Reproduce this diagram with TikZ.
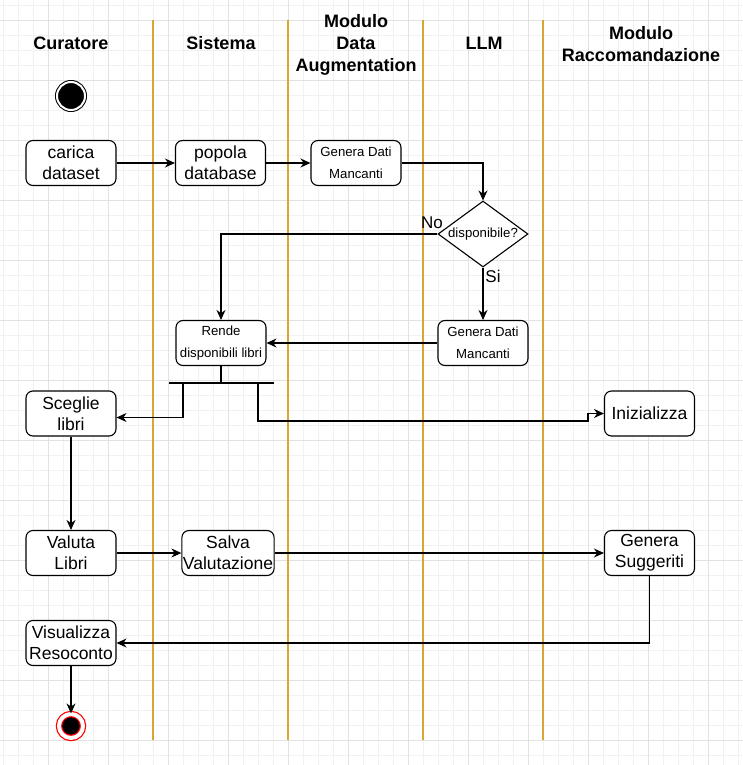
\documentclass[tikz,border=0pt]{standalone}
\usepackage{fontspec}
\setmainfont{Liberation Sans}
\usepackage{xcolor}
\usepackage{tikz}
\usetikzlibrary{shapes,shapes.geometric,arrows.meta,calc,positioning}
\definecolor{lanecol}{HTML}{D9A636}
\definecolor{gridmin}{HTML}{F1F1F1}
\definecolor{gridmaj}{HTML}{E2E2E2}
\tikzset{
  lane/.style={draw=lanecol, line width=1.6pt},
  lanehead/.style={align=center, inner sep=0pt, font=\fontsize{18}{22}\selectfont\bfseries},
  act/.style={rectangle, rounded corners=7pt, draw=black, line width=1.1pt, fill=white, minimum width=90pt, minimum height=45pt, align=center, inner sep=1pt, font=\fontsize{17.5}{21}\selectfont},
  act_s/.style={act, font=\fontsize{13.2}{22}\selectfont},
  dec_n/.style={diamond, aspect=1.5, draw=black, line width=1.1pt, fill=white, minimum width=90pt, minimum height=66pt, inner sep=0pt, font=\fontsize{13.2}{16}\selectfont},
  startnode/.style={circle, draw=black, fill=black, double=white, double distance=2pt, line width=1pt, minimum size=28pt, inner sep=0pt},
  endnode/.style={circle, draw=red, fill=black, double=white, double distance=4pt, line width=1.2pt, minimum size=24pt, inner sep=0pt},
  forkbar/.style={rectangle, fill=black, inner sep=0pt, minimum width=105pt, minimum height=1.6pt},
  flow/.style={draw=black, line width=1.1pt, -{Stealth[length=10pt,width=9pt]}},
  conn/.style={draw=black, line width=1.1pt},
  lbl/.style={inner sep=0pt, font=\fontsize{17}{18}\selectfont}
}
\begin{document}
\begin{tikzpicture}[x=1pt,y=-1pt]
\useasboundingbox (0,0) rectangle (743,765);
% background grid
\foreach \g in {0,...,49} \draw[gridmin, line width=0.6pt] (3+15*\g,0) -- (3+15*\g,765);
\foreach \g in {0,...,50} \draw[gridmin, line width=0.6pt] (0,5+15*\g) -- (743,5+15*\g);
\foreach \g in {0,...,11} \draw[gridmaj, line width=0.7pt] (48+60*\g,0) -- (48+60*\g,765);
\foreach \g in {0,...,12} \draw[gridmaj, line width=0.7pt] (0,20+60*\g) -- (743,20+60*\g);

% swimlanes
\foreach \x in {153,288,423,543} \draw[lane] (\x,20) -- (\x,740);
\node[lanehead] (h_cur) at (71,43) {Curatore};
\node[lanehead] (h_sis) at (221,43) {Sistema};
\node[lanehead] (h_mda) at (356,45) {Modulo\\Data\\Augmentation};
\node[lanehead] (h_llm) at (484,43) {LLM};
\node[lanehead] (h_rac) at (641,44) {Modulo\\Raccomandazione};

% activities
\node[startnode] (start) at (71,96) {};
\node[act] (carica) at (71,163) {carica\\dataset};
\node[act] (popola) at (220.5,163) {popola\\database};
\node[act_s] (gen_dm) at (356,163) {Genera Dati\\Mancanti};
\node[dec_n] (dispo) at (483,234) {disponibile?};
\node[act_s] (gen_llm) at (483,343) {Genera Dati\\Mancanti};
\node[act_s] (rende) at (221,343) {Rende\\disponibili libri};
\node[forkbar] (fork) at (221,383) {};
\coordinate (fork_l) at (183,383);
\coordinate (fork_r) at (258,383);
\coordinate (jog) at (588,421);
\node[act] (sceglie) at (71,413.5) {Sceglie\\libri};
\node[act] (iniz) at (649.5,413.5) {Inizializza};
\node[act] (valuta) at (71,553) {Valuta\\Libri};
\node[act] (salva) at (228,553) {Salva\\Valutazione};
\node[act] (gen_sug) at (649.5,553) {Genera\\Suggeriti};
\node[act] (visual) at (71,643) {Visualizza\\Resoconto};
\node[endnode] (fine) at (71,726) {};
\node[lbl] (l_no) at (432,223) {No};
\node[lbl] (l_si) at (493,276) {Si};

% flows
\draw[flow] (carica) -- (popola);
\draw[flow] (popola) -- (gen_dm);
\draw[flow] (gen_dm.east) -| (dispo.north);
\draw[flow] (dispo.west) -| (rende.north);
\draw[flow] (dispo.south) -- (gen_llm.north);
\draw[flow] (gen_llm) -- (rende);
\draw[conn] (rende) -- (fork);
\draw[flow] (fork_l) |- ([yshift=-4pt]sceglie.east);
\draw[flow] (fork_r) |- (jog) |- (iniz.west);
\draw[flow] (sceglie) -- (valuta);
\draw[flow] (valuta) -- (salva);
\draw[flow] (salva) -- (gen_sug);
\draw[flow] (gen_sug.south) |- (visual.east);
\draw[flow] (visual) -- (fine);
\end{tikzpicture}
\end{document}
